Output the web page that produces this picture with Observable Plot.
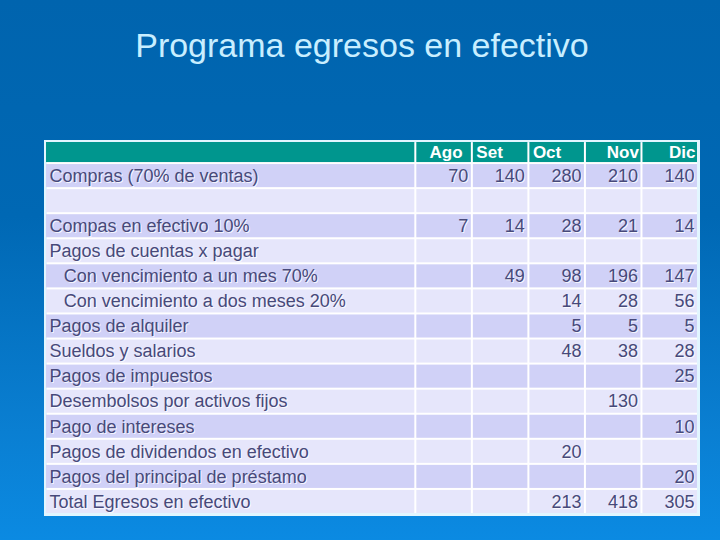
<!DOCTYPE html>
<html>
<head>
<meta charset="utf-8">
<script src="https://cdn.jsdelivr.net/npm/d3@7"></script>
<script src="https://cdn.jsdelivr.net/npm/@observablehq/plot@0.6"></script>
<style>
  html, body { margin: 0; padding: 0; }
  body {
    width: 720px; height: 540px; overflow: hidden;
    background: linear-gradient(180deg, #0064ae 0%, #0068b4 40%, #0a7fd2 80%, #0b8ae2 100%);
    font-family: "Liberation Sans", Arial, sans-serif;
  }
  #title {
    height: 140px; box-sizing: border-box; padding-top: 25px;
    text-align: center; color: #c8eeff; font-size: 34px; padding-left: 4px;
    line-height: 40px;
  }
  #chart svg { display: block; }
  #chart text.shadow { text-shadow: 1px 1px 0 rgba(255,255,255,0.8); }
</style>
</head>
<body>
<div id="title">Programa egresos en efectivo</div>
<div id="chart"></div>
<script>
// ---- data ----
const months = ["Ago", "Set", "Oct", "Nov", "Dic"];
const rowLabels = [
  "Compras (70% de ventas)",
  "",
  "Compas en efectivo 10%",
  "Pagos de cuentas x pagar",
  "Con vencimiento a un mes 70%",
  "Con vencimiento a dos meses 20%",
  "Pagos de alquiler",
  "Sueldos y salarios",
  "Pagos de impuestos",
  "Desembolsos por activos fijos",
  "Pago de intereses",
  "Pagos de dividendos en efectivo",
  "Pagos del principal de préstamo",
  "Total Egresos en efectivo"
];
const indentLevel = [0, 0, 0, 0, 1, 1, 0, 0, 0, 0, 0, 0, 0, 0];
const compras     = [70, 140, 280, 210, 140];
const blank       = [null, null, null, null, null];
const efectivo10  = [7, 14, 28, 21, 14];
const cuentas     = [null, null, null, null, null];
const venc1mes    = [null, 49, 98, 196, 147];
const venc2meses  = [null, null, 14, 28, 56];
const alquiler    = [null, null, 5, 5, 5];
const sueldos     = [null, null, 48, 38, 28];
const impuestos   = [null, null, null, null, 25];
const activos     = [null, null, null, 130, null];
const intereses   = [null, null, null, null, 10];
const dividendos  = [null, null, 20, null, null];
const principal   = [null, null, null, null, 20];
const total       = [null, null, 213, 418, 305];
const rowValues = [compras, blank, efectivo10, cuentas, venc1mes, venc2meses, alquiler,
  sueldos, impuestos, activos, intereses, dividendos, principal, total];

// ---- layout (in scale units) ----
const LW = 6.55;          // label column width (month column = 1)
const HH = 0.88;          // header row height (body row = 1)
const IND = 0.25;         // indentation step
const H = HH + rowLabels.length;
const headerAnchor = {Ago: "middle", Set: "start", Oct: "start", Nov: "end", Dic: "end"};
const textColor = "#47497a";
const dark = "#d0d1f7", light = "#e6e6fb", teal = "#00968e";

const cols = [{key: "label", x1: 0, x2: LW}].concat(months.map((m, i) => ({key: m, x1: LW + i, x2: LW + i + 1})));

const cells = [];
cols.forEach(c => cells.push({x1: c.x1, x2: c.x2, y1: 0, y2: HH, fill: teal}));
rowLabels.forEach((r, i) => {
  cols.forEach(c => cells.push({x1: c.x1, x2: c.x2, y1: HH + i, y2: HH + i + 1, fill: i % 2 === 0 ? dark : light}));
});

const labels = rowLabels.map((t, i) => ({text: t, y: HH + i + 0.5, x: indentLevel[i] * IND}))
  .filter(d => d.text !== "");
const values = [];
rowValues.forEach((arr, i) => arr.forEach((v, j) => {
  if (v != null) values.push({x: LW + j + 1, y: HH + i + 0.5, text: String(v)});
}));
const headers = months.map((m, j) => {
  const a = headerAnchor[m];
  return {text: m, y: HH / 2, anchor: a,
    x: a === "end" ? LW + j + 1 : a === "start" ? LW + j : LW + j + 0.5};
});

const font = "Liberation Sans, Arial, sans-serif";
const hdr = (anchor, dx) => Plot.text(headers.filter(h => h.anchor === anchor), {
  x: "x", y: "y", text: "text", textAnchor: anchor, dx, fill: "white", fontSize: 17, fontWeight: "bold"
});
const plot = Plot.plot({
  width: 720, height: 400,
  marginLeft: 45, marginRight: 22, marginTop: 1, marginBottom: 26,
  style: {background: "transparent", fontFamily: font},
  x: {domain: [0, LW + months.length], axis: null},
  y: {domain: [H, 0], axis: null},
  marks: [
    Plot.frame({fill: "white", stroke: "#e2f6ff", strokeWidth: 3}),
    Plot.rect(cells, {x1: "x1", x2: "x2", y1: "y1", y2: "y2", fill: "fill", inset: 1}),
    Plot.text(labels, {x: "x", y: "y", text: "text", textAnchor: "start", dx: 4, fill: textColor, fontSize: 18}),
    Plot.text(values, {x: "x", y: "y", text: "text", textAnchor: "end", dx: -4, fill: textColor, fontSize: 18}),
    hdr("middle", 2),
    hdr("start", 4),
    hdr("end", -3)
  ]
});
d3.select(plot).selectAll("text").each(function () {
  if (this.parentNode.getAttribute("fill") === textColor) this.classList.add("shadow");
});
document.getElementById("chart").appendChild(plot);
</script>
</body>
</html>
